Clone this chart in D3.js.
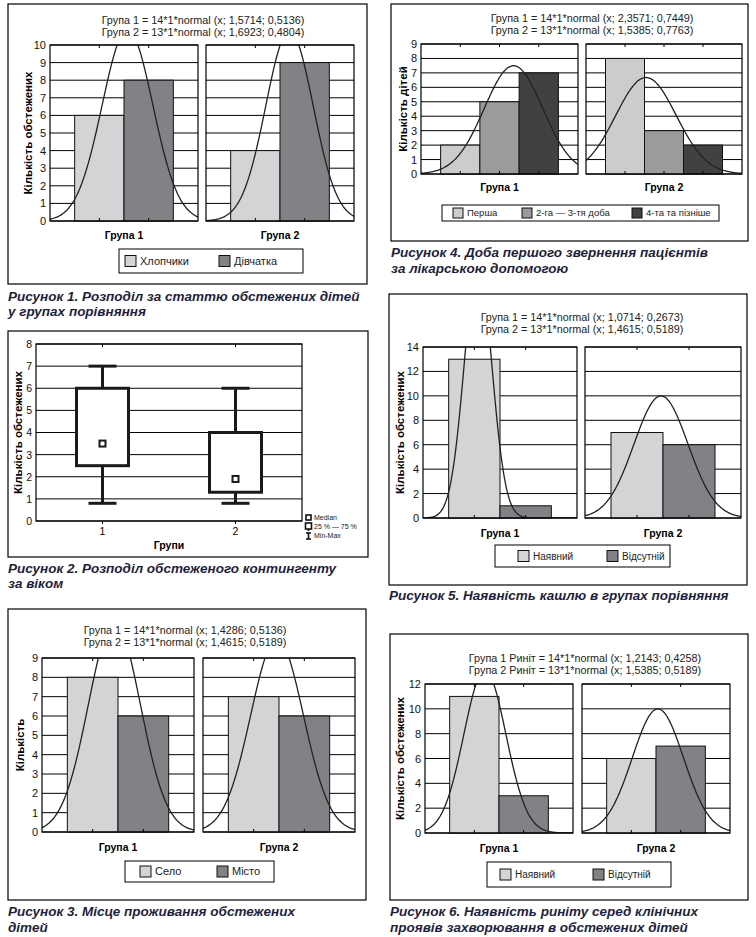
<!DOCTYPE html>
<html>
<head>
<meta charset="utf-8">
<script src="https://cdn.jsdelivr.net/npm/d3@7"></script>
<style>
  body { margin: 0; background: #fff; }
  text { font-family: "Liberation Sans", Arial, sans-serif; }
</style>
</head>
<body>
<svg id="chart" width="756" height="937"></svg>
<script>
// ---- data ----
const groups = ["Група 1", "Група 2"];

// Рисунок 1
const fig1Series = ["Хлопчики", "Дівчатка"];
const fig1Values = [[6, 8], [4, 9]];
const fig1N = [14, 13];
const fig1Mean = [1.5714, 1.6923];
const fig1Sd = [0.5136, 0.4804];

// Рисунок 4
const fig4Series = ["Перша", "2-га — 3-тя доба", "4-та та пізніше"];
const fig4Values = [[2, 5, 7], [8, 3, 2]];
const fig4N = [14, 13];
const fig4Mean = [2.3571, 1.5385];
const fig4Sd = [0.7449, 0.7763];

// Рисунок 2 (box plot)
const boxGroups = ["1", "2"];
const boxMin = [0.8, 0.8];
const boxQ1 = [2.5, 1.3];
const boxMedian = [3.5, 1.9];
const boxQ3 = [6, 4];
const boxMax = [7, 6];

// Рисунок 5
const fig5Series = ["Наявний", "Відсутній"];
const fig5Values = [[13, 1], [7, 6]];
const fig5N = [14, 13];
const fig5Mean = [1.0714, 1.4615];
const fig5Sd = [0.2673, 0.5189];

// Рисунок 3
const fig3Series = ["Село", "Місто"];
const fig3Values = [[8, 6], [7, 6]];
const fig3N = [14, 13];
const fig3Mean = [1.4286, 1.4615];
const fig3Sd = [0.5136, 0.5189];

// Рисунок 6
const fig6Series = ["Наявний", "Відсутній"];
const fig6Values = [[11, 3], [6, 7]];
const fig6N = [14, 13];
const fig6Mean = [1.2143, 1.5385];
const fig6Sd = [0.4258, 0.5189];

const svg = d3.select("#chart");
svg.append("rect").attr("width", 756).attr("height", 937).attr("fill", "#fff");

const fmt = v => v.toFixed(4).replace(".", ",");
const CAPTION = "#1e1f3f";
let clipId = 0;

function normalPdf(x, m, s) {
    const z = (x - m) / s;
    return Math.exp(-0.5 * z * z) / (s * Math.sqrt(2 * Math.PI));
}

function drawCaption(lines, x, ys) {
    lines.forEach((t, i) => {
        svg.append("text")
            .attr("x", x).attr("y", ys[i])
            .attr("font-size", "13.5px")
            .attr("font-weight", "bold")
            .attr("font-style", "italic")
            .attr("fill", CAPTION)
            .text(t);
    });
}

function drawHist(cfg) {
    const [bx0, by0, bx1, by1] = cfg.box;
    svg.append("rect")
        .attr("x", bx0).attr("y", by0)
        .attr("width", bx1 - bx0).attr("height", by1 - by0)
        .attr("fill", "none").attr("stroke", "#000").attr("stroke-width", 1.2);

    // title lines with fit parameters
    groups.forEach((g, i) => {
        svg.append("text")
            .attr("x", cfg.titleX).attr("y", cfg.titleY[i])
            .attr("dy", "0.35em")
            .attr("text-anchor", "middle")
            .attr("font-size", "10.8px")
            .attr("fill", "#222")
            .text(`${g}${cfg.titleSuffix || ""} = ${cfg.n[i]}*1*normal (x; ${fmt(cfg.mean[i])}; ${fmt(cfg.sd[i])})`);
    });

    const k = cfg.series.length;
    const y = d3.scaleLinear().domain([0, cfg.yMax]).range([cfg.bottom, cfg.top]);
    const ticks = d3.range(0, cfg.yMax + 0.001, cfg.yStep);

    groups.forEach((g, gi) => {
        const [sx0, sx1] = cfg.subplots[gi];
        const x = d3.scaleLinear().domain([0, k + 1]).range([sx0, sx1]);
        const gp = svg.append("g");

        gp.selectAll("line.grid")
            .data(ticks)
            .join("line")
            .attr("x1", sx0).attr("x2", sx1)
            .attr("y1", d => y(d)).attr("y2", d => y(d))
            .attr("stroke", "#000").attr("stroke-width", 1);

        gp.selectAll("rect.bar")
            .data(cfg.values[gi])
            .join("rect")
            .attr("x", (d, i) => x(i + 0.5))
            .attr("width", x(1) - x(0))
            .attr("y", d => y(d))
            .attr("height", d => y(0) - y(d))
            .attr("fill", (d, i) => cfg.colors[i])
            .attr("stroke", "#111").attr("stroke-width", 1);

        // small inner ticks at category centres
        const cats = d3.range(1, k + 1);
        gp.selectAll("line.tb")
            .data(cats)
            .join("line")
            .attr("x1", d => x(d)).attr("x2", d => x(d))
            .attr("y1", cfg.bottom).attr("y2", cfg.bottom - 3)
            .attr("stroke", "#000");
        gp.selectAll("line.tt")
            .data(cats)
            .join("line")
            .attr("class", "tt")
            .attr("x1", d => x(d)).attr("x2", d => x(d))
            .attr("y1", cfg.top).attr("y2", cfg.top + 3)
            .attr("stroke", "#000");

        // fitted normal curve, clipped to the plot area
        const id = "clip" + (clipId++);
        svg.append("clipPath").attr("id", id)
            .append("rect")
            .attr("x", sx0).attr("y", cfg.top)
            .attr("width", sx1 - sx0).attr("height", cfg.bottom - cfg.top);
        const xs = d3.range(0, k + 1.0001, (k + 1) / 200);
        const line = d3.line()
            .x(d => x(d))
            .y(d => y(cfg.n[gi] * normalPdf(d, cfg.mean[gi], cfg.sd[gi])))
            .curve(d3.curveBasis);
        gp.append("path")
            .datum(xs)
            .attr("d", line)
            .attr("clip-path", `url(#${id})`)
            .attr("fill", "none")
            .attr("stroke", "#222")
            .attr("stroke-width", 1.3);

        gp.append("rect")
            .attr("x", sx0).attr("y", cfg.top)
            .attr("width", sx1 - sx0).attr("height", cfg.bottom - cfg.top)
            .attr("fill", "none").attr("stroke", "#000").attr("stroke-width", 1.2);

        svg.append("text")
            .attr("x", (sx0 + sx1) / 2).attr("y", cfg.groupLabelY)
            .attr("dy", "0.35em")
            .attr("text-anchor", "middle")
            .attr("font-size", "10.5px")
            .attr("font-weight", "bold")
            .text(g);
    });

    // y axis on the left subplot
    const axis = svg.append("g")
        .attr("transform", `translate(${cfg.subplots[0][0]},0)`)
        .call(d3.axisLeft(y).tickValues(ticks).tickSize(0).tickPadding(4).tickFormat(d3.format("d")));
    axis.select(".domain").remove();
    axis.selectAll("text")
        .attr("font-size", "11px")
        .attr("font-family", "Liberation Sans, Arial, sans-serif")
        .attr("fill", "#111");

    svg.append("text")
        .attr("transform", `translate(${cfg.yLabelX},${(cfg.top + cfg.bottom) / 2}) rotate(-90)`)
        .attr("text-anchor", "middle")
        .attr("dy", "0.35em")
        .attr("font-size", "11.5px")
        .attr("font-weight", "bold")
        .text(cfg.yLabel);

    // legend
    const [lx0, ly0, lx1, ly1] = cfg.legend;
    svg.append("rect")
        .attr("x", lx0).attr("y", ly0)
        .attr("width", lx1 - lx0).attr("height", ly1 - ly0)
        .attr("fill", "#fff").attr("stroke", "#000").attr("stroke-width", 1);
    const ly = (ly0 + ly1) / 2;
    const sw = cfg.swatch || 11;
    cfg.series.forEach((s, i) => {
        svg.append("rect")
            .attr("x", cfg.legendX[i]).attr("y", ly - sw / 2)
            .attr("width", sw).attr("height", sw)
            .attr("fill", cfg.colors[i]).attr("stroke", "#111");
        svg.append("text")
            .attr("x", cfg.legendX[i] + sw + 4).attr("y", ly)
            .attr("dy", "0.35em")
            .attr("font-size", cfg.legendFont || "11px")
            .attr("fill", "#222")
            .text(s);
    });

    drawCaption(cfg.caption, cfg.box[0], cfg.captionY);
}

function drawBox() {
    const bx0 = 8, by0 = 331, bx1 = 368, by1 = 557;
    svg.append("rect")
        .attr("x", bx0).attr("y", by0)
        .attr("width", bx1 - bx0).attr("height", by1 - by0)
        .attr("fill", "none").attr("stroke", "#000").attr("stroke-width", 1.2);

    const top = 344, bottom = 521, left = 36, right = 302;
    const y = d3.scaleLinear().domain([0, 8]).range([bottom, top]);
    const x = d3.scaleLinear().domain([0.5, 2.5]).range([left, right]);
    const ticks = d3.range(0, 9);

    svg.selectAll("line.bgrid")
        .data(ticks)
        .join("line")
        .attr("x1", left).attr("x2", right)
        .attr("y1", d => y(d)).attr("y2", d => y(d))
        .attr("stroke", "#000").attr("stroke-width", 1);
    svg.append("rect")
        .attr("x", left).attr("y", top)
        .attr("width", right - left).attr("height", bottom - top)
        .attr("fill", "none").attr("stroke", "#000").attr("stroke-width", 1.2);

    const pos = [1, 2];
    pos.forEach(p => {
        svg.append("line").attr("x1", x(p)).attr("x2", x(p))
            .attr("y1", bottom).attr("y2", bottom + 3).attr("stroke", "#000");
        svg.append("line").attr("x1", x(p)).attr("x2", x(p))
            .attr("y1", top).attr("y2", top + 3).attr("stroke", "#000");
    });

    const bw = 26, cw = 14;
    const g = svg.append("g").attr("stroke", "#1a1a1a").attr("stroke-width", 3).attr("fill", "none");
    boxGroups.forEach((b, i) => {
        const cx = x(pos[i]);
        g.append("line").attr("x1", cx).attr("x2", cx).attr("y1", y(boxMin[i])).attr("y2", y(boxQ1[i]));
        g.append("line").attr("x1", cx).attr("x2", cx).attr("y1", y(boxQ3[i])).attr("y2", y(boxMax[i]));
        g.append("line").attr("x1", cx - cw).attr("x2", cx + cw).attr("y1", y(boxMin[i])).attr("y2", y(boxMin[i]));
        g.append("line").attr("x1", cx - cw).attr("x2", cx + cw).attr("y1", y(boxMax[i])).attr("y2", y(boxMax[i]));
        g.append("rect")
            .attr("x", cx - bw).attr("y", y(boxQ3[i]))
            .attr("width", bw * 2).attr("height", y(boxQ1[i]) - y(boxQ3[i]))
            .attr("fill", "#fff");
        svg.append("rect")
            .attr("x", cx - 3).attr("y", y(boxMedian[i]) - 3)
            .attr("width", 6).attr("height", 6)
            .attr("fill", "#fff").attr("stroke", "#1a1a1a").attr("stroke-width", 2);
        svg.append("text")
            .attr("x", cx).attr("y", 531)
            .attr("dy", "0.35em")
            .attr("text-anchor", "middle")
            .attr("font-size", "10.5px")
            .text(b);
    });

    const axis = svg.append("g")
        .attr("transform", `translate(${left},0)`)
        .call(d3.axisLeft(y).tickValues(ticks).tickSize(0).tickPadding(4));
    axis.select(".domain").remove();
    axis.selectAll("text").attr("font-size", "10.5px")
        .attr("font-family", "Liberation Sans, Arial, sans-serif").attr("fill", "#111");

    svg.append("text")
        .attr("transform", `translate(18,${(top + bottom) / 2}) rotate(-90)`)
        .attr("text-anchor", "middle").attr("dy", "0.35em")
        .attr("font-size", "11.5px").attr("font-weight", "bold")
        .text("Кількість обстежених");
    svg.append("text")
        .attr("x", (left + right) / 2).attr("y", 545)
        .attr("dy", "0.35em").attr("text-anchor", "middle")
        .attr("font-size", "10.5px").attr("font-weight", "bold")
        .text("Групи");

    // box legend
    const lg = svg.append("g");
    lg.append("rect").attr("x", 306).attr("y", 515).attr("width", 5).attr("height", 5)
        .attr("fill", "#fff").attr("stroke", "#111").attr("stroke-width", 1.6);
    lg.append("rect").attr("x", 305.5).attr("y", 523).attr("width", 6).attr("height", 6)
        .attr("fill", "#fff").attr("stroke", "#111").attr("stroke-width", 1.6);
    lg.append("line").attr("x1", 308.5).attr("x2", 308.5).attr("y1", 529).attr("y2", 531)
        .attr("stroke", "#111").attr("stroke-width", 1.6);
    lg.append("line").attr("x1", 308.5).attr("x2", 308.5).attr("y1", 533).attr("y2", 539)
        .attr("stroke", "#111").attr("stroke-width", 1.6);
    lg.append("line").attr("x1", 306).attr("x2", 311).attr("y1", 533).attr("y2", 533)
        .attr("stroke", "#111").attr("stroke-width", 1.6);
    lg.append("line").attr("x1", 306).attr("x2", 311).attr("y1", 539).attr("y2", 539)
        .attr("stroke", "#111").attr("stroke-width", 1.6);
    [["Median", 518], ["25 % — 75 %", 527], ["Min-Max", 536]].forEach(([t, yy]) => {
        lg.append("text").attr("x", 314).attr("y", yy).attr("dy", "0.35em")
            .attr("font-size", "7px").attr("fill", "#222").text(t);
    });

    drawCaption(["Рисунок 2. Розподіл обстеженого контингенту", "за віком"], 8, [573, 588]);
}

const two = ["#d3d4d6", "#818285"];
const three = ["#cbccce", "#9a9b9d", "#414143"];

drawHist({
    box: [8, 4, 367, 284], titleX: 203, titleY: [20, 32],
    n: fig1N, mean: fig1Mean, sd: fig1Sd,
    series: fig1Series, values: fig1Values, colors: two,
    subplots: [[50, 198], [206, 354]], top: 45, bottom: 221, yMax: 10, yStep: 1,
    yLabel: "Кількість обстежених", yLabelX: 28, groupLabelY: 235,
    legend: [119, 249, 303, 273], legendX: [125, 219],
    caption: ["Рисунок 1. Розподіл за статтю обстежених дітей", "у групах порівняння"], captionY: [301, 316]
});

drawHist({
    box: [391, 4, 748, 241], titleX: 592, titleY: [18, 30],
    n: fig4N, mean: fig4Mean, sd: fig4Sd,
    series: fig4Series, values: fig4Values, colors: three,
    subplots: [[421, 578], [586, 742]], top: 44, bottom: 174, yMax: 9, yStep: 1,
    yLabel: "Кількість дітей", yLabelX: 403, groupLabelY: 187,
    legend: [442, 205, 719, 221], legendX: [453, 522, 632], swatch: 10, legendFont: "9.5px",
    caption: ["Рисунок 4. Доба першого звернення пацієнтів", "за лікарською допомогою"], captionY: [257, 273]
});

drawBox();

drawHist({
    box: [389, 294, 747, 585], titleX: 582, titleY: [317, 329],
    n: fig5N, mean: fig5Mean, sd: fig5Sd,
    series: fig5Series, values: fig5Values, colors: two,
    subplots: [[423, 577], [585, 741]], top: 347, bottom: 518, yMax: 14, yStep: 2,
    yLabel: "Кількість обстежених", yLabelX: 400, groupLabelY: 533,
    legend: [495, 545, 670, 567], legendX: [518, 607], legendFont: "10px",
    caption: ["Рисунок 5. Наявність кашлю в групах порівняння"], captionY: [600]
});

drawHist({
    box: [8, 609, 366, 900], titleX: 185, titleY: [630, 642],
    n: fig3N, mean: fig3Mean, sd: fig3Sd,
    series: fig3Series, values: fig3Values, colors: two,
    subplots: [[42, 194], [203, 355]], top: 658, bottom: 832, yMax: 9, yStep: 1,
    yLabel: "Кількість", yLabelX: 20, groupLabelY: 847,
    legend: [125, 861, 274, 882], legendX: [140, 217],
    caption: ["Рисунок 3. Місце проживання обстежених", "дітей"], captionY: [916, 932]
});

drawHist({
    box: [390, 634, 748, 900], titleX: 585, titleY: [658, 670], titleSuffix: " Риніт",
    n: fig6N, mean: fig6Mean, sd: fig6Sd,
    series: fig6Series, values: fig6Values, colors: two,
    subplots: [[425, 573], [582, 730]], top: 684, bottom: 833, yMax: 12, yStep: 2,
    yLabel: "Кількість обстежених", yLabelX: 400, groupLabelY: 848,
    legend: [487, 862, 671, 887], legendX: [500, 593], legendFont: "10px",
    caption: ["Рисунок 6. Наявність риніту серед клінічних", "проявів захворювання в обстежених дітей"], captionY: [916, 932]
});
</script>
</body>
</html>
